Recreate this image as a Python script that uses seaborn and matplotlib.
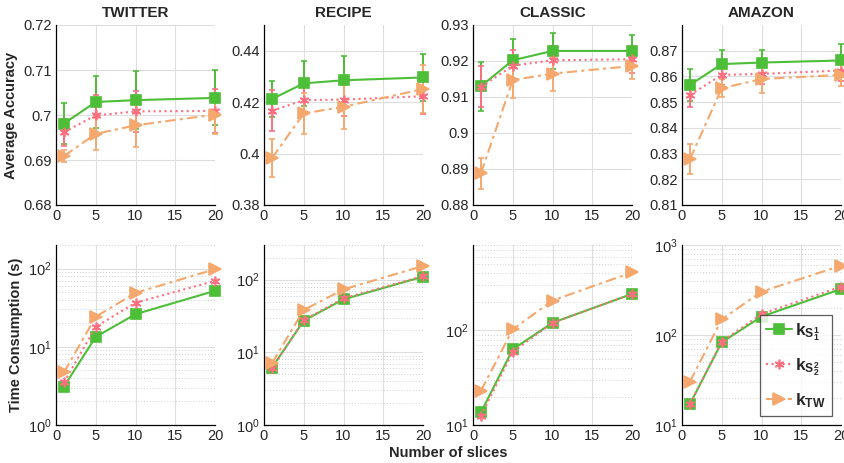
import numpy as np
import pandas as pd
import matplotlib
matplotlib.use("Agg")
import matplotlib.pyplot as plt
import seaborn as sns
from matplotlib.ticker import LogLocator, NullFormatter

sns.set_style("white")
plt.rcParams['font.family'] = ['Liberation Sans', 'DejaVu Sans']
plt.rcParams['mathtext.fontset'] = 'custom'
plt.rcParams['mathtext.rm'] = 'Liberation Sans'
plt.rcParams['mathtext.bf'] = 'Liberation Sans:bold'
plt.rcParams['mathtext.it'] = 'Liberation Sans:italic'

# ---------------- data ----------------
slices = [1, 5, 10, 20]
datasets = ["TWITTER", "RECIPE", "CLASSIC", "AMAZON"]
methods = ["kS1", "kS2", "kTW"]
method_labels = [r'$\mathbf{k_{S_1^1}}$', r'$\mathbf{k_{S_2^2}}$', r'$\mathbf{k_{TW}}$']

# accuracy means
acc_twitter_s1 = [0.6981, 0.7029, 0.7033, 0.7038]
acc_twitter_s2 = [0.6962, 0.6999, 0.7008, 0.7009]
acc_twitter_tw = [0.6909, 0.6958, 0.6977, 0.7001]
acc_recipe_s1 = [0.4212, 0.4273, 0.4285, 0.4296]
acc_recipe_s2 = [0.4166, 0.4208, 0.4210, 0.4223]
acc_recipe_tw = [0.3982, 0.4156, 0.4182, 0.4251]
acc_classic_s1 = [0.9130, 0.9202, 0.9228, 0.9228]
acc_classic_s2 = [0.9128, 0.9187, 0.9202, 0.9205]
acc_classic_tw = [0.8888, 0.9147, 0.9165, 0.9186]
acc_amazon_s1 = [0.8567, 0.8648, 0.8654, 0.8662]
acc_amazon_s2 = [0.8528, 0.8606, 0.8610, 0.8623]
acc_amazon_tw = [0.8278, 0.8554, 0.8590, 0.8606]

# accuracy error bars (half-width)
err_twitter_s1 = [0.0045, 0.0058, 0.0064, 0.0061]
err_twitter_s2 = [0.0030, 0.0045, 0.0045, 0.0048]
err_twitter_tw = [0.0014, 0.0035, 0.0048, 0.0044]
err_recipe_s1 = [0.0070, 0.0088, 0.0095, 0.0090]
err_recipe_s2 = [0.0080, 0.0055, 0.0065, 0.0068]
err_recipe_tw = [0.0074, 0.0081, 0.0085, 0.0094]
err_classic_s1 = [0.0068, 0.0060, 0.0050, 0.0045]
err_classic_s2 = [0.0057, 0.0044, 0.0040, 0.0037]
err_classic_tw = [0.0043, 0.0050, 0.0047, 0.0035]
err_amazon_s1 = [0.0062, 0.0056, 0.0050, 0.0064]
err_amazon_s2 = [0.0047, 0.0040, 0.0040, 0.0040]
err_amazon_tw = [0.0058, 0.0035, 0.0056, 0.0043]

# time consumption (s)
time_twitter_s1 = [3.1, 13.4, 26.1, 51.9]
time_twitter_s2 = [3.5, 18.0, 36.5, 69.6]
time_twitter_tw = [4.7, 24.2, 48.9, 98.0]
time_recipe_s1 = [6.15, 27.3, 53.6, 110.0]
time_recipe_s2 = [6.0, 27.9, 55.4, 112.0]
time_recipe_tw = [7.06, 38.2, 73.6, 154.0]
time_classic_s1 = [13.6, 63.1, 120.5, 243.0]
time_classic_s2 = [12.5, 59.2, 120.0, 243.0]
time_classic_tw = [23.0, 102.5, 207.0, 411.0]
time_amazon_s1 = [17.1, 83.0, 160.0, 324.0]
time_amazon_s2 = [17.1, 84.5, 171.0, 344.0]
time_amazon_tw = [30.3, 149.0, 303.0, 589.0]

acc = {
    "TWITTER": [acc_twitter_s1, acc_twitter_s2, acc_twitter_tw],
    "RECIPE": [acc_recipe_s1, acc_recipe_s2, acc_recipe_tw],
    "CLASSIC": [acc_classic_s1, acc_classic_s2, acc_classic_tw],
    "AMAZON": [acc_amazon_s1, acc_amazon_s2, acc_amazon_tw],
}
err = {
    "TWITTER": [err_twitter_s1, err_twitter_s2, err_twitter_tw],
    "RECIPE": [err_recipe_s1, err_recipe_s2, err_recipe_tw],
    "CLASSIC": [err_classic_s1, err_classic_s2, err_classic_tw],
    "AMAZON": [err_amazon_s1, err_amazon_s2, err_amazon_tw],
}
tim = {
    "TWITTER": [time_twitter_s1, time_twitter_s2, time_twitter_tw],
    "RECIPE": [time_recipe_s1, time_recipe_s2, time_recipe_tw],
    "CLASSIC": [time_classic_s1, time_classic_s2, time_classic_tw],
    "AMAZON": [time_amazon_s1, time_amazon_s2, time_amazon_tw],
}

acc_ylims = {"TWITTER": (0.68, 0.72), "RECIPE": (0.38, 0.45),
             "CLASSIC": (0.88, 0.93), "AMAZON": (0.81, 0.88)}
acc_yticks = {"TWITTER": [0.68, 0.69, 0.7, 0.71, 0.72],
              "RECIPE": [0.38, 0.4, 0.42, 0.44],
              "CLASSIC": [0.88, 0.89, 0.9, 0.91, 0.92, 0.93],
              "AMAZON": [0.81, 0.82, 0.83, 0.84, 0.85, 0.86, 0.87]}
acc_ytl = {"TWITTER": ["0.68", "0.69", "0.7", "0.71", "0.72"],
           "RECIPE": ["0.38", "0.4", "0.42", "0.44"],
           "CLASSIC": ["0.88", "0.89", "0.9", "0.91", "0.92", "0.93"],
           "AMAZON": ["0.81", "0.82", "0.83", "0.84", "0.85", "0.86", "0.87"]}
time_ylims = {"TWITTER": (1, 200), "RECIPE": (1, 300),
              "CLASSIC": (10, 800), "AMAZON": (10, 1000)}

colors = ["#4dbe38", "#ff6f80", "#f5a86e"]
markers = ["s", (6, 2, 0), ">"]
msizes = [6.5, 7, 9]
lstyles = ["-", ":", (0, (5, 2, 1.5, 2))]

# ---------------- figure ----------------
W, H = 844, 463
fig = plt.figure(figsize=(W / 100, H / 100), dpi=100)
lefts = [56, 264, 473, 682]
aw = 159

def px_axes(l, t, w, h):
    return fig.add_axes([l / W, 1 - (t + h) / H, w / W, h / H])

def style_ax(ax, log=False):
    for s in ["top", "right"]:
        ax.spines[s].set_visible(False)
    for s in ["left", "bottom"]:
        ax.spines[s].set_color("black")
        ax.spines[s].set_linewidth(0.9)
    ax.set_xlim(0, 20)
    ax.set_xticks([0, 5, 10, 15, 20])
    ax.grid(True, which="major", color="#dedede", linewidth=0.8)
    if log:
        ax.grid(True, which="minor", color="#d0d0d0", linestyle=(0, (1, 2)), linewidth=0.7)
    ax.tick_params(axis="both", which="major", direction="in", length=3,
                   labelsize=10.5, colors="black", labelcolor="#262626", pad=3)
    ax.tick_params(axis="both", which="minor", direction="in", length=1.5)
    ax.set_axisbelow(True)

for i, ds in enumerate(datasets):
    # accuracy
    ax = px_axes(lefts[i], 25, aw, 180)
    style_ax(ax)
    for m in range(3):
        y = acc[ds][m]
        e = err[ds][m]
        ax.errorbar(slices, y, yerr=e, fmt="none", ecolor=colors[m],
                    elinewidth=1.4, capsize=2.5, capthick=1.2, zorder=2, clip_on=False)
        sns.lineplot(x=slices, y=y, ax=ax, color=colors[m], marker=markers[m],
                     markersize=msizes[m], markeredgecolor=colors[m],
                     markeredgewidth=1.2, linewidth=1.5, linestyle=lstyles[m],
                     clip_on=False, zorder=3, legend=False)
    ax.set_ylim(*acc_ylims[ds])
    ax.set_yticks(acc_yticks[ds])
    ax.set_yticklabels(acc_ytl[ds])
    ax.set_title(ds, fontsize=11, fontweight="bold", pad=6)
    if i == 0:
        ax.set_ylabel("Average Accuracy", fontsize=10.5, fontweight="bold", labelpad=4)

    # time
    ax2 = px_axes(lefts[i], 245, aw, 180)
    ax2.set_yscale("log")
    style_ax(ax2, log=True)
    lines = []
    for m in range(3):
        y = tim[ds][m]
        sns.lineplot(x=slices, y=y, ax=ax2, color=colors[m], marker=markers[m],
                     markersize=msizes[m], markeredgecolor=colors[m],
                     markeredgewidth=1.2, linewidth=1.5, linestyle=lstyles[m],
                     clip_on=False, zorder=3, legend=False)
        lines.append(ax2.lines[-1])
    ax2.set_ylim(*time_ylims[ds])
    ax2.yaxis.set_major_locator(LogLocator(base=10, numticks=10))
    ax2.yaxis.set_minor_locator(LogLocator(base=10, subs=np.arange(2, 10), numticks=20))
    ax2.yaxis.set_minor_formatter(NullFormatter())
    if i == 0:
        ax2.set_ylabel("Time Consumption (s)", fontsize=10.5, fontweight="bold", labelpad=4)
    if i == 3:
        leg = ax2.legend(lines, method_labels, loc="lower right",
                         bbox_to_anchor=(0.945, 0.05), fontsize=12.5,
                         frameon=True, fancybox=False, edgecolor="#333333",
                         handlelength=1.5, labelspacing=0.75, borderpad=0.35,
                         handletextpad=0.2, borderaxespad=0.0)
        leg.get_frame().set_linewidth(0.9)

fig.text(448 / W, 1 - 453 / H, "Number of slices", ha="center", va="center",
         fontsize=10.5, fontweight="bold")

fig.savefig("out.png", dpi=100, facecolor="white")
